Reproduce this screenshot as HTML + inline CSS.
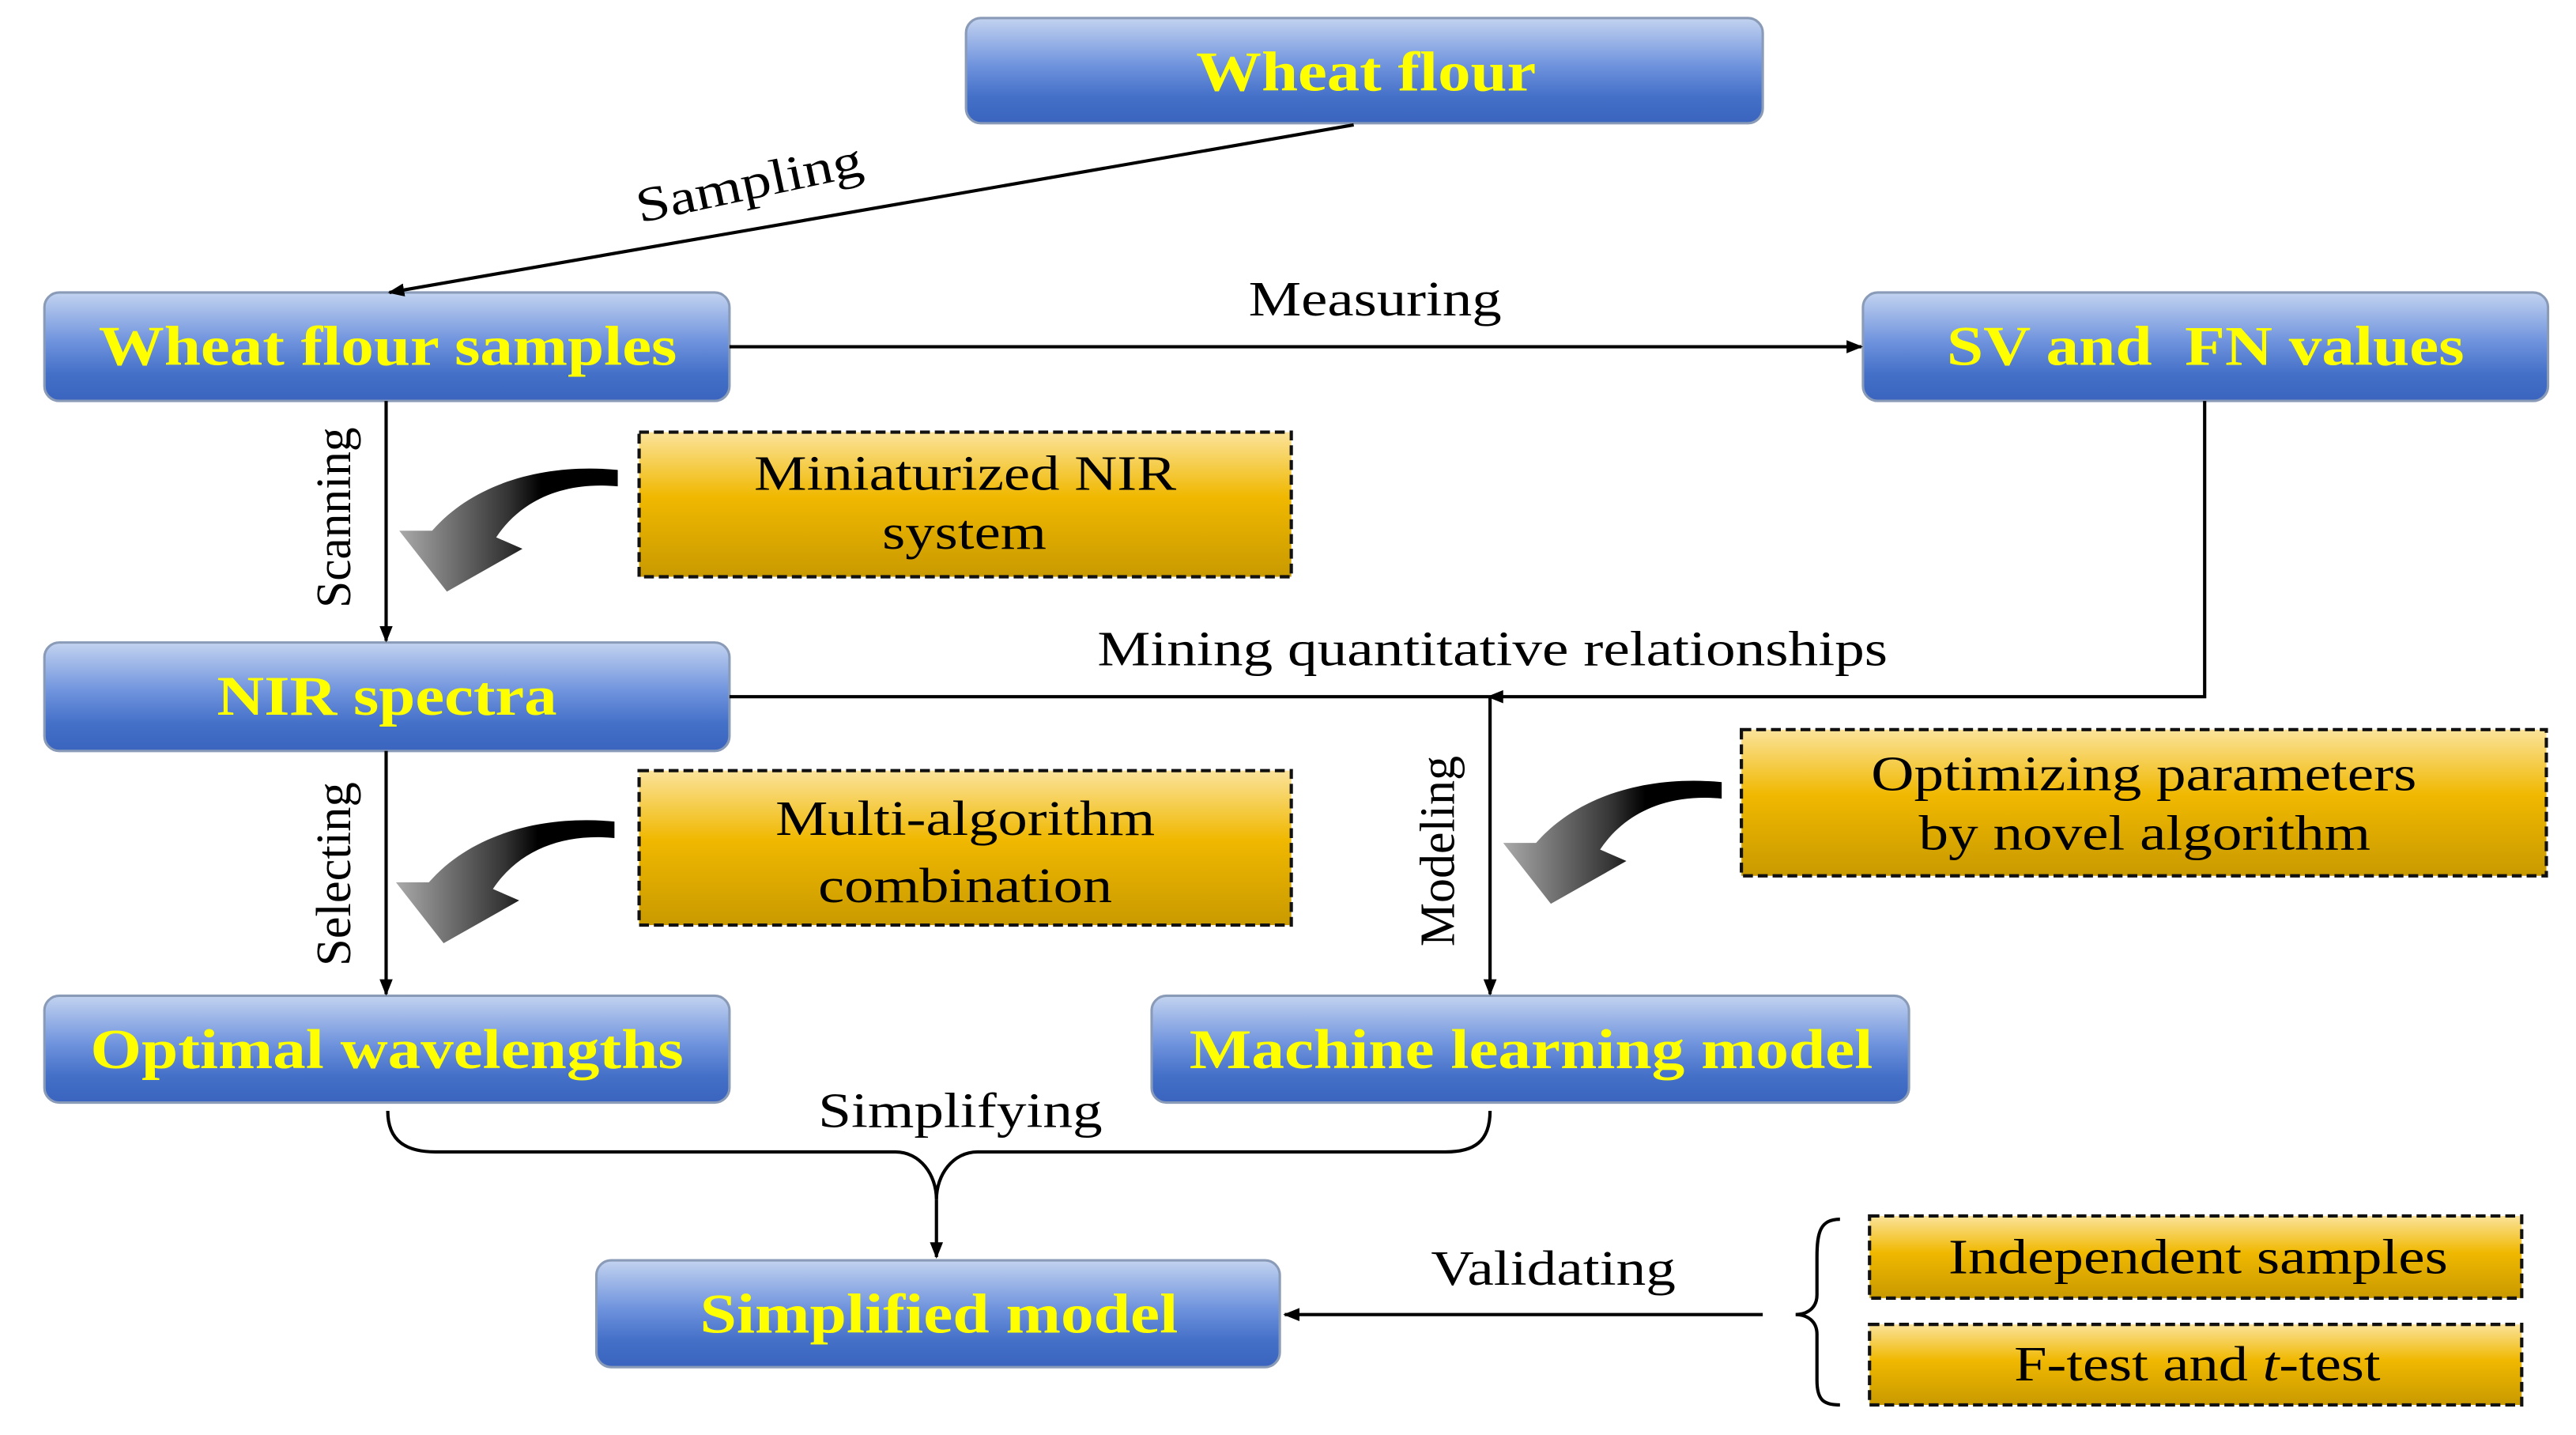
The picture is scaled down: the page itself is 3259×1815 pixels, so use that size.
<!DOCTYPE html>
<html><head><meta charset="utf-8"><style>html,body{margin:0;padding:0;background:#fff}svg{display:block}</style></head>
<body>
<svg width="3259" height="1815" viewBox="0 0 1568 873.3" xmlns="http://www.w3.org/2000/svg">
<defs>
<linearGradient id="bl" x1="0" y1="0" x2="0" y2="1">
<stop offset="0" stop-color="#c3d3f0"/><stop offset="0.45" stop-color="#6f93dd"/><stop offset="0.75" stop-color="#4470c8"/><stop offset="1" stop-color="#3a64be"/></linearGradient>
<linearGradient id="yl" x1="0" y1="0" x2="0" y2="1">
<stop offset="0" stop-color="#fbe39a"/><stop offset="0.45" stop-color="#f0b800"/><stop offset="1" stop-color="#c99a00"/></linearGradient>
<linearGradient id="ar" x1="0" y1="0" x2="1" y2="0">
<stop offset="0" stop-color="#aaa"/><stop offset="0.5" stop-color="#333"/><stop offset="0.65" stop-color="#000"/></linearGradient>
<marker id="m" markerWidth="10" markerHeight="10" refX="9" refY="5" orient="auto" markerUnits="userSpaceOnUse"><path d="M0,1 L10,5 L0,9 Z" fill="#000"/></marker>
<path id="carrow" d="M376,286 C335,282 290,292 263,323 L243,323 L272,360 L318,334 L302,327 C318,303 345,293 376,296 Z" fill="url(#ar)"/>
</defs>
<g font-family="'Liberation Serif', serif">
<g stroke="#8a9bb8" stroke-width="1.5" fill="url(#bl)">
<rect x="588" y="11" width="485" height="64" rx="9"/>
<rect x="27" y="178" width="417" height="66" rx="9"/>
<rect x="1134" y="178" width="417" height="66" rx="9"/>
<rect x="27" y="391" width="417" height="66" rx="9"/>
<rect x="27" y="606" width="417" height="65" rx="9"/>
<rect x="701" y="606" width="461" height="65" rx="9"/>
<rect x="363" y="767" width="416" height="65" rx="9"/>
</g>
<g fill="#ffff00" font-weight="bold" font-size="34">
<text x="728" y="55" textLength="207" lengthAdjust="spacingAndGlyphs">Wheat flour</text>
<text x="60" y="222" textLength="352" lengthAdjust="spacingAndGlyphs">Wheat flour samples</text>
<text x="1185" y="222" textLength="315" lengthAdjust="spacingAndGlyphs" xml:space="preserve">SV and  FN values</text>
<text x="132" y="435" textLength="207" lengthAdjust="spacingAndGlyphs">NIR spectra</text>
<text x="55" y="650" textLength="361" lengthAdjust="spacingAndGlyphs">Optimal wavelengths</text>
<text x="724" y="650" textLength="416" lengthAdjust="spacingAndGlyphs">Machine learning model</text>
<text x="426" y="811" textLength="291" lengthAdjust="spacingAndGlyphs">Simplified model</text>
</g>
<g stroke="#111" stroke-width="2" stroke-dasharray="6,3" fill="url(#yl)">
<rect x="389" y="263" width="397" height="88"/>
<rect x="389" y="469" width="397" height="94"/>
<rect x="1060" y="444" width="490" height="89"/>
<rect x="1138" y="740" width="397" height="50"/>
<rect x="1138" y="806" width="397" height="49"/>
</g>
<g fill="#000" font-size="30">
<text x="459" y="298" textLength="257" lengthAdjust="spacingAndGlyphs">Miniaturized NIR</text>
<text x="537" y="334" textLength="100" lengthAdjust="spacingAndGlyphs">system</text>
<text x="472" y="508" textLength="231" lengthAdjust="spacingAndGlyphs">Multi-algorithm</text>
<text x="498" y="549" textLength="179" lengthAdjust="spacingAndGlyphs">combination</text>
<text x="1139" y="481" textLength="332" lengthAdjust="spacingAndGlyphs">Optimizing parameters</text>
<text x="1168" y="517" textLength="275" lengthAdjust="spacingAndGlyphs">by novel algorithm</text>
<text x="1186" y="775" textLength="304" lengthAdjust="spacingAndGlyphs">Independent samples</text>
<text x="1226" y="840" textLength="223" lengthAdjust="spacingAndGlyphs">F-test and <tspan font-style="italic">t</tspan>-test</text>
<text x="760" y="192" textLength="154" lengthAdjust="spacingAndGlyphs">Measuring</text>
<text x="668" y="405" textLength="481" lengthAdjust="spacingAndGlyphs">Mining quantitative relationships</text>
<text x="498" y="686" textLength="173" lengthAdjust="spacingAndGlyphs">Simplifying</text>
<text x="871" y="782" textLength="149" lengthAdjust="spacingAndGlyphs">Validating</text>
<text transform="translate(458,121) rotate(-12)" text-anchor="middle" textLength="140" lengthAdjust="spacingAndGlyphs">Sampling</text>
<text transform="translate(213,315) rotate(-90)" text-anchor="middle" textLength="110" lengthAdjust="spacingAndGlyphs">Scanning</text>
<text transform="translate(213,532) rotate(-90)" text-anchor="middle" textLength="112" lengthAdjust="spacingAndGlyphs">Selecting</text>
<text transform="translate(885,518) rotate(-90)" text-anchor="middle" textLength="116" lengthAdjust="spacingAndGlyphs">Modeling</text>
</g>
<g stroke="#000" stroke-width="2" fill="none">
<line x1="824" y1="76" x2="237" y2="178" marker-end="url(#m)"/>
<line x1="444" y1="211" x2="1133" y2="211" marker-end="url(#m)"/>
<line x1="235" y1="244" x2="235" y2="390" marker-end="url(#m)"/>
<line x1="235" y1="457" x2="235" y2="605" marker-end="url(#m)"/>
<polyline points="1342,244 1342,424 906,424" marker-end="url(#m)"/>
<line x1="444" y1="424" x2="906" y2="424"/>
<line x1="907" y1="424" x2="907" y2="605" marker-end="url(#m)"/>
<path d="M236,676 C236,695 248,701 265,701 L545,701 C560,701 570,715 570,730 C570,715 580,701 595,701 L880,701 C897,701 907,695 907,676"/>
<line x1="570" y1="730" x2="570" y2="765" marker-end="url(#m)"/>
<line x1="1073" y1="800" x2="782" y2="800" marker-end="url(#m)"/>
<path d="M1120,742 C1108,742 1106,750 1106,765 L1106,788 C1106,796 1100,800 1093,800 C1100,800 1106,804 1106,812 L1106,840 C1106,852 1110,855 1120,855"/>
</g>
<use href="#carrow"/>
<use href="#carrow" transform="translate(-2,214)"/>
<use href="#carrow" transform="translate(672,190)"/>
</g>
</svg>
</body></html>
